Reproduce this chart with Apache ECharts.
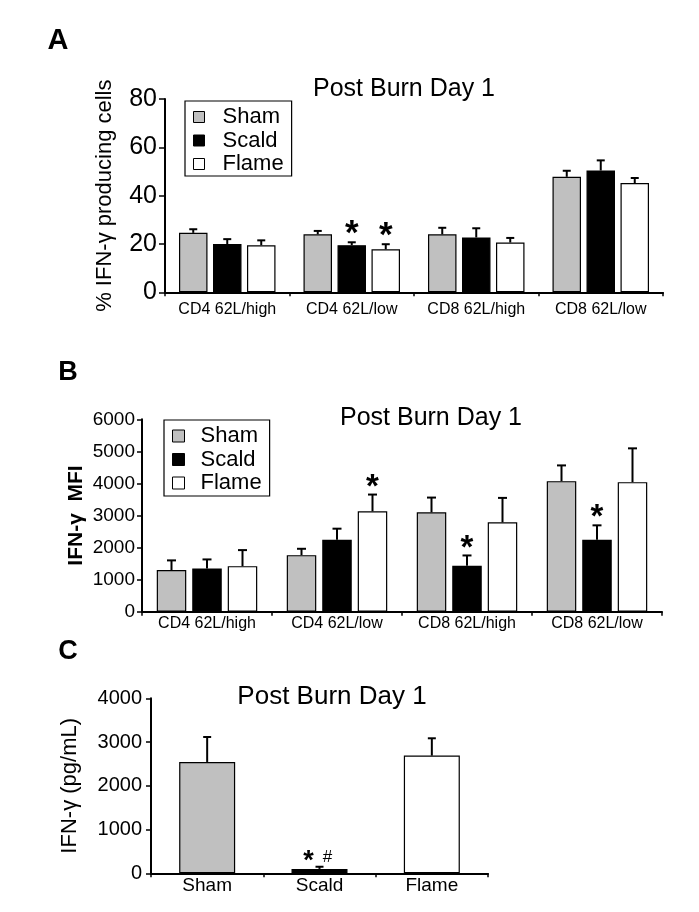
<!DOCTYPE html>
<html>
<head>
<meta charset="utf-8">
<script src="https://cdn.jsdelivr.net/npm/echarts@6/dist/echarts.min.js"></script>
<style>
html,body{margin:0;padding:0;background:#fff}
#main{width:699px;height:912px}
</style>
</head>
<body>
<div id="main"></div>
<script>
// categories
var cellCats = ['CD4 62L/high', 'CD4 62L/low', 'CD8 62L/high', 'CD8 62L/low'];
var groupNames = ['Sham', 'Scald', 'Flame'];

// A: % IFN-g producing cells
var pctSham = [24.6, 24.0, 24.0, 47.8];
var pctScald = [20.0, 19.5, 22.7, 50.4];
var pctFlame = [19.5, 17.8, 20.6, 45.2];
var pctShamErr = [1.5, 1.4, 2.7, 2.5];
var pctScaldErr = [2.0, 1.2, 3.8, 4.2];
var pctFlameErr = [2.0, 2.1, 1.9, 2.1];
var pctShamMark = ['', '', '', ''];
var pctScaldMark = ['', '*', '', ''];
var pctFlameMark = ['', '*', '', ''];

// B: IFN-g MFI
var mfiSham = [1300, 1764, 3100, 4071];
var mfiScald = [1350, 2244, 1430, 2244];
var mfiFlame = [1420, 3131, 2787, 4040];
var mfiShamErr = [300, 198, 459, 491];
var mfiScaldErr = [280, 345, 324, 449];
var mfiFlameErr = [501, 522, 762, 1054];
var mfiShamMark = ['', '', '', ''];
var mfiScaldMark = ['', '', '*', '*'];
var mfiFlameMark = ['', '*', '', ''];

// C: IFN-g (pg/mL)
var elisaMean = [2545, 100, 2690];
var elisaErr = [571, 50, 396];
var elisaMark = ['', '*#', ''];

var colors = ['#c0c0c0', '#000000', '#ffffff'];
var sans = "'Liberation Sans', Arial, sans-serif";

var barA = 28.5, gapA = 5.5;
var barB = 29.5, gapB = 6;
var barC = 56;

// 误差线 + 显著性标记
function errSeries(axis, means, errs, marks, offset, capW, starSize, starLift) {
    return {
        type: 'custom',
        xAxisIndex: axis,
        yAxisIndex: axis,
        silent: true,
        z: 5,
        data: means.map(function (m, i) { return [i, m + errs[i]]; }),
        renderItem: function (params, api) {
            var i = params.dataIndex;
            var base = api.coord([i, means[i]]);
            var top = api.coord([i, means[i] + errs[i]]);
            var x = base[0] + offset;
            var ch = [
                {type: 'line', shape: {x1: x, y1: base[1], x2: x, y2: top[1]}, style: {stroke: '#000', lineWidth: 2}},
                {type: 'line', shape: {x1: x - capW / 2, y1: top[1], x2: x + capW / 2, y2: top[1]}, style: {stroke: '#000', lineWidth: 2}}
            ];
            var mk = marks[i];
            if (mk === '*') {
                ch.push({type: 'text', x: x, y: top[1] - starLift, style: {text: '*', fontSize: starSize, fontWeight: 'bold', fontFamily: sans, fill: '#000', align: 'center', verticalAlign: 'middle'}});
            } else if (mk === '*#') {
                ch.push({type: 'text', x: x - 11, y: top[1] - starLift, style: {text: '*', fontSize: starSize, fontWeight: 'bold', fontFamily: sans, fill: '#000', align: 'center', verticalAlign: 'middle'}});
                ch.push({type: 'text', x: x + 8, y: top[1] - 9, style: {text: '#', fontSize: 17, fontFamily: sans, fill: '#000', align: 'center', verticalAlign: 'middle'}});
            }
            return {type: 'group', children: ch};
        }
    };
}

function barSeries(axis, name, data, color, w, gap) {
    return {
        type: 'bar',
        name: name,
        xAxisIndex: axis,
        yAxisIndex: axis,
        data: data,
        barWidth: w,
        barGap: (gap / w * 100).toFixed(1) + '%',
        itemStyle: {color: color, borderColor: '#000', borderWidth: 1.2},
        emphasis: {disabled: true}
    };
}

function xAx(idx, data, size, margin) {
    return {
        type: 'category',
        gridIndex: idx,
        data: data,
        axisLine: {lineStyle: {color: '#000', width: 2}},
        axisTick: {show: true, length: 4, lineStyle: {color: '#000', width: 1.5}},
        axisLabel: {color: '#000', fontFamily: sans, fontSize: size, margin: margin, interval: 0},
        splitLine: {show: false}
    };
}

function yAx(idx, max, step, size, margin, tick, name, gap, nameStyle) {
    return {
        type: 'value',
        gridIndex: idx,
        min: 0, max: max, interval: step,
        axisLine: {show: true, lineStyle: {color: '#000', width: 2}},
        axisTick: {show: true, length: tick, lineStyle: {color: '#000', width: 1.5}},
        axisLabel: {color: '#000', fontFamily: sans, fontSize: size, margin: margin,
            formatter: function (v) { return String(v); }},
        splitLine: {show: false},
        name: name,
        nameLocation: 'middle',
        nameGap: gap,
        nameMoveOverlap: false,
        nameTextStyle: nameStyle
    };
}

function legendBox(left, top, pad, icon, textPad) {
    return {
        data: groupNames,
        orient: 'vertical',
        left: left, top: top,
        padding: pad,
        itemWidth: icon, itemHeight: icon,
        itemGap: 1.5,
        icon: 'rect',
        borderColor: '#000', borderWidth: 1.2,
        itemStyle: {borderColor: '#000', borderWidth: 1},
        selectedMode: false,
        textStyle: {color: '#000', fontFamily: sans, fontSize: 22, lineHeight: 22, padding: [0, 0, 0, textPad]}
    };
}

function label(text, x, y, size, weight) {
    return {type: 'text', x: x, y: y, silent: true,
        style: {text: text, fontSize: size, fontWeight: weight, fontFamily: sans, fill: '#000', align: 'center', verticalAlign: 'middle'}};
}

var myChart = echarts.init(document.getElementById('main'), null, {renderer: 'canvas'});

var option = {
    backgroundColor: '#fff',
    animation: false,
    graphic: [
        label('A', 58, 41, 29, 'bold'),
        label('B', 68, 373, 27, 'bold'),
        label('C', 68, 652, 27, 'bold'),
        label('Post Burn Day 1', 404, 89, 25, 'normal'),
        label('Post Burn Day 1', 431, 418, 25, 'normal'),
        label('Post Burn Day 1', 332, 697, 26, 'normal')
    ],
    legend: [
        legendBox(185, 101, [5, 8, 1, 8], 11, 13),
        legendBox(164, 420, [5, 8, 2, 8], 12, 11)
    ],
    grid: [
        {left: 165, top: 99, width: 498, height: 193.3},
        {left: 142, top: 419.3, width: 520, height: 192.4},
        {left: 151, top: 698.3, width: 337, height: 175}
    ],
    xAxis: [
        xAx(0, cellCats, 16, 9),
        xAx(1, cellCats, 16, 4),
        xAx(2, groupNames, 19, 3)
    ],
    yAxis: [
        yAx(0, 80, 20, 25, 8, 6, '% IFN-\u03b3 producing cells', 49,
            {fontSize: 22, fontWeight: 'normal', fontFamily: sans, color: '#000'}),
        yAx(1, 6000, 1000, 19, 7, 5, 'IFN-\u03b3  MFI', 55,
            {fontSize: 21, fontWeight: 'bold', fontFamily: sans, color: '#000'}),
        yAx(2, 4000, 1000, 20, 9, 5, 'IFN-\u03b3 (pg/mL)', 70,
            {fontSize: 22, fontWeight: 'normal', fontFamily: sans, color: '#000'})
    ],
    series: [
        barSeries(0, 'Sham', pctSham, colors[0], barA, gapA),
        barSeries(0, 'Scald', pctScald, colors[1], barA, gapA),
        barSeries(0, 'Flame', pctFlame, colors[2], barA, gapA),
        errSeries(0, pctSham, pctShamErr, pctShamMark, -(barA + gapA), 8, 35, 8),
        errSeries(0, pctScald, pctScaldErr, pctScaldMark, 0, 8, 35, 8),
        errSeries(0, pctFlame, pctFlameErr, pctFlameMark, barA + gapA, 8, 35, 8),

        barSeries(1, 'Sham', mfiSham, colors[0], barB, gapB),
        barSeries(1, 'Scald', mfiScald, colors[1], barB, gapB),
        barSeries(1, 'Flame', mfiFlame, colors[2], barB, gapB),
        errSeries(1, mfiSham, mfiShamErr, mfiShamMark, -(barB + gapB), 9, 33, 7),
        errSeries(1, mfiScald, mfiScaldErr, mfiScaldMark, 0, 9, 33, 7),
        errSeries(1, mfiFlame, mfiFlameErr, mfiFlameMark, barB + gapB, 9, 33, 7),

        {
            type: 'bar',
            name: 'IFN-\u03b3',
            xAxisIndex: 2,
            yAxisIndex: 2,
            barWidth: barC,
            data: elisaMean.map(function (v, i) {
                return {value: v, itemStyle: {color: colors[i]}};
            }),
            itemStyle: {borderColor: '#000', borderWidth: 1.2},
            emphasis: {disabled: true}
        },
        errSeries(2, elisaMean, elisaErr, elisaMark, 0, 8, 27, 5)
    ]
};

myChart.setOption(option);
</script>
</body>
</html>
